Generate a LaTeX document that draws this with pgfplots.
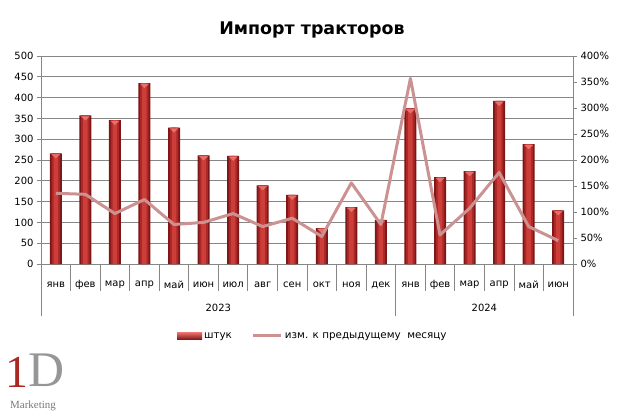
\documentclass[border=0pt]{standalone}
\usepackage{pgfplots}
\pgfplotsset{compat=1.18}
\usepackage{fontspec}
\setmainfont{DejaVu Sans}
\newfontfamily\logofont{Liberation Serif}
\definecolor{gridc}{RGB}{134,134,134}
\definecolor{bardark}{RGB}{125,22,22}
\definecolor{barmid}{RGB}{170,40,38}
\definecolor{barlight}{RGB}{205,62,58}
\definecolor{bartop}{RGB}{232,112,108}
\definecolor{linec}{RGB}{204,146,146}
\definecolor{logored}{RGB}{170,40,35}
\definecolor{logogray}{RGB}{150,150,150}
\pgfplotstableread{
x y
1 266
2 357
3 346
4 435
5 328
6 261
7 260
8 189
9 166
10 86
11 137
12 106
13 374
14 209
15 223
16 392
17 288
18 129
}\bars
\begin{document}
\begin{tikzpicture}[x=1bp,y=1bp]
\useasboundingbox (0,0) rectangle (631,418);
\node[font=\bfseries\fontsize{17.5}{20}\selectfont] at (312,388) {Импорт тракторов};
% logo
\node[text=logored, inner sep=0pt, font=\logofont\fontsize{46}{46}\selectfont] at (17,46) {1};
\node[text=logogray, inner sep=0pt, font=\logofont\fontsize{50}{50}\selectfont] at (46,48) {D};
\node[text=logogray!80!black, font=\logofont\fontsize{11}{12}\selectfont] at (33,12) {Marketing};
\begin{axis}[
  at={(41bp,154bp)}, anchor=south west, scale only axis,
  width=532bp, height=208bp,
  xmin=0.5, xmax=18.5, ymin=0, ymax=500,
  axis lines*=left,
  axis line style={draw=gridc, line width=0.8bp},
  ytick={0,50,...,500},
  ymajorgrids, grid style={draw=gridc, line width=0.8bp},
  tick align=outside, major tick length=4bp,
  tick style={draw=gridc, line width=0.8bp},
  xtick={1,...,18},
  xticklabels={янв,фев,мар,апр,май,июн,июл,авг,сен,окт,ноя,дек,янв,фев,мар,апр,май,июн},
  x tick style={draw=none},
  xticklabel style={anchor=center, yshift=-17bp},
  tick label style={font=\fontsize{10}{12}\selectfont},
  /pgf/number format/assume math mode=true,
  clip=false,
  legend style={at={(0.511,-0.346)}, anchor=center, draw=none, legend columns=2,
    font=\fontsize{10.4}{12}\selectfont, /tikz/every even column/.append style={column sep=18bp}},
  legend image code/.code={\draw[#1] (0bp,0bp) -- (28bp,0bp);},
]
\addplot[ybar, bar width=12bp, bar shift=0pt, draw=none, fill=bardark,
  legend image code/.code={\shade[top color=bartop, bottom color=bardark] (0bp,-3.5bp) rectangle (25bp,3.5bp);}]
  table[x=x,y=y] {\bars};
\addlegendentry{штук}
\addlegendimage{linec, line width=3bp}
\addlegendentry{изм. к предыдущему\ \ месяцу}
\addplot[ybar, bar width=8.5bp, bar shift=0pt, draw=none, fill=barmid, forget plot] table[x=x,y=y] {\bars};
\addplot[ybar, bar width=4.5bp, bar shift=0pt, draw=none, fill=barlight, forget plot] table[x=x,y=y] {\bars};
\addplot[only marks, mark=triangle*, mark size=4.5bp, mark options={rotate=180, yscale=0.55, fill=bartop, draw=bartop}, yshift=-2.2bp, forget plot] table[x=x,y=y] {\bars};
\pgfplotsinvokeforeach{1.5,2.5,3.5,4.5,5.5,6.5,7.5,8.5,9.5,10.5,11.5,13.5,14.5,15.5,16.5,17.5}{
  \draw[gridc, line width=0.8bp] (axis cs:#1,0) -- ++(0bp,-27bp);
}
\pgfplotsinvokeforeach{0.5,12.5,18.5}{
  \draw[gridc, line width=0.8bp] (axis cs:#1,0) -- ++(0bp,-52bp);
}
\node[font=\fontsize{10}{12}\selectfont] at (axis cs:6.5,0) [yshift=-44bp] {2023};
\node[font=\fontsize{10}{12}\selectfont] at (axis cs:15.5,0) [yshift=-44bp] {2024};
\end{axis}
\begin{axis}[
  at={(41bp,154bp)}, anchor=south west, scale only axis,
  width=532bp, height=208bp,
  xmin=0.5, xmax=18.5, ymin=0, ymax=400,
  axis x line=none, axis y line*=right,
  axis line style={draw=gridc, line width=0.8bp},
  ytick={0,50,...,400},
  yticklabel={\pgfmathprintnumber{\tick}\%},
  tick align=outside, major tick length=4bp,
  tick style={draw=gridc, line width=0.8bp},
  tick label style={font=\fontsize{10}{12}\selectfont},
  /pgf/number format/assume math mode=true,
]
\addplot[linec, line width=3bp, line join=round] coordinates {
  (1,136) (2,134) (3,97) (4,124) (5,76) (6,80) (7,97) (8,72) (9,88) (10,53) (11,156) (12,76)
  (13,357) (14,56) (15,107) (16,176) (17,72) (18,45)};
\end{axis}
\end{tikzpicture}
\end{document}
